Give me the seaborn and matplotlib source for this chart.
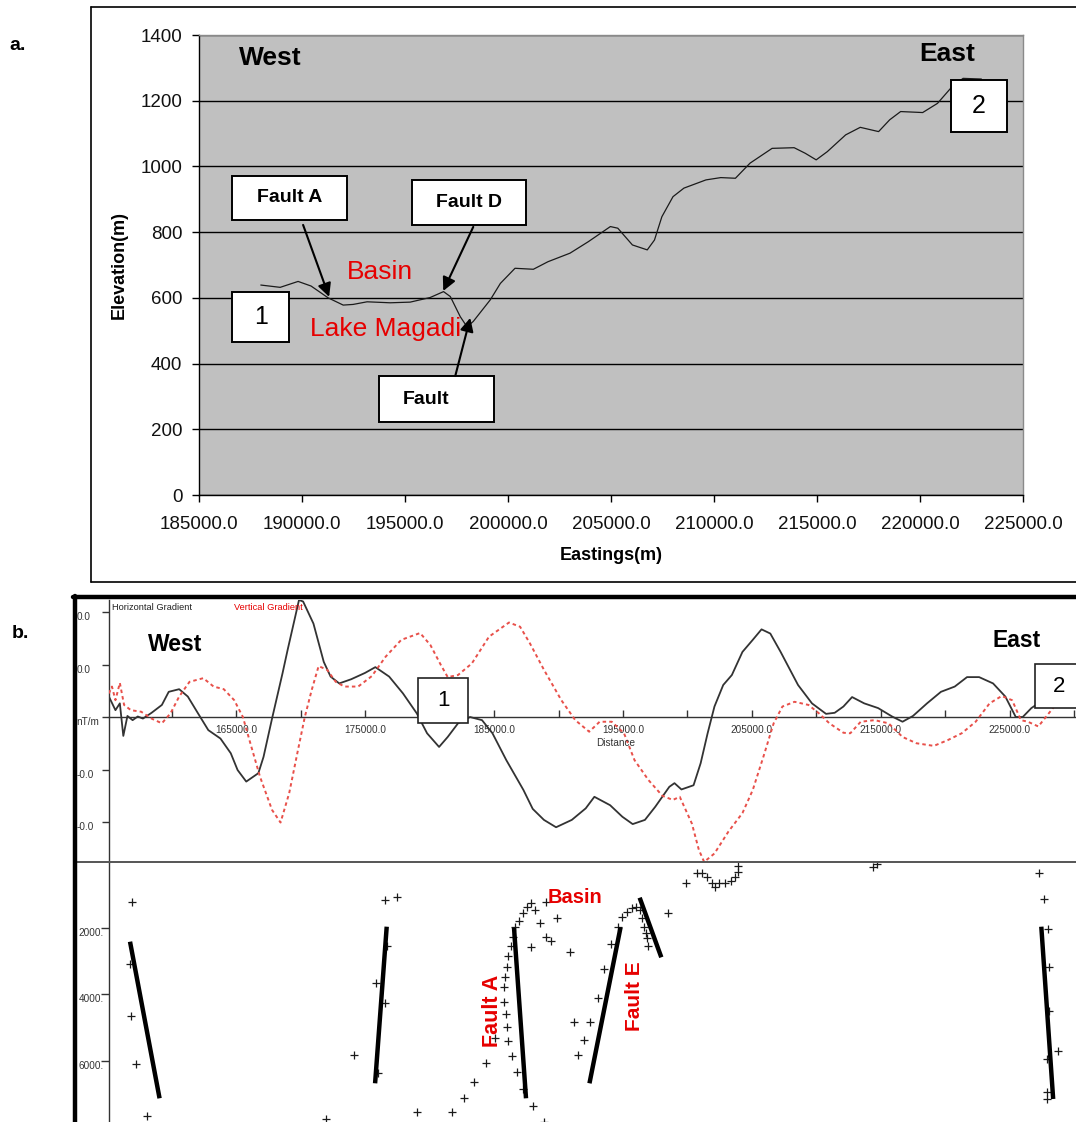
import matplotlib
matplotlib.use("Agg")
import numpy as np
import pandas as pd
import seaborn as sns
import matplotlib.pyplot as plt
from matplotlib.patches import Rectangle
from matplotlib.lines import Line2D
from matplotlib import font_manager

# ---------------- data ----------------
# (a) topographic profile
east_m = [188000, 188940, 189810, 190440, 191270, 192000, 192480, 193160, 194280, 195250,
          196220, 196870, 197200, 197680, 198010, 198310, 199140, 199630, 200340, 201230,
          201940, 203010, 203900, 204970, 205330, 206040, 206760, 207110, 207470, 208010,
          208540, 209610, 210330, 211040, 211750, 212820, 213890, 214430, 214960, 215500,
          216390, 217100, 217990, 218530, 219060, 220130, 220850, 221560, 222090, 222980]
elev_m = [639, 632, 650, 636, 600, 578, 580, 588, 585, 587,
          601, 619, 604, 543, 512, 528, 594, 644, 690, 687,
          710, 736, 771, 817, 812, 761, 746, 776, 847, 908,
          934, 959, 966, 964, 1010, 1055, 1057, 1040, 1020, 1045,
          1096, 1119, 1106, 1142, 1167, 1164, 1192, 1243, 1268, 1266]

# (b) gradient profiles (in tick units of the nT/m axis)
h_dist = [155140, 155650, 155990, 156260, 156580, 156980, 157380, 157780, 158450, 159250,
          159780, 160590, 161260, 162050, 162850, 163790, 164590, 165120, 165790, 166730,
          167130, 167790, 168600, 169000, 169530, 169880, 170200, 171000, 171800, 172330,
          173000, 173930, 175000, 175800, 176870, 177940, 179010, 179810, 180740, 181410,
          182210, 183140, 184070, 184880, 185950, 187280, 188000, 188870, 189810, 191030,
          192110, 192780, 194000, 194950, 195750, 196700, 197500, 198590, 198990, 199530,
          200470, 201020, 201560, 202090, 202770, 203440, 204260, 205060, 205740, 206420,
          207220, 208570, 209650, 210740, 211410, 212090, 212760, 213700, 214780, 215860,
          216670, 217480, 218570, 219650, 220720, 221670, 222610, 223690, 224640, 225450,
          225990, 226660, 227200, 228200]
h_grad = [0.39, 0.13, 0.26, -0.36, 0.02, -0.06, 0.01, -0.03, 0.08, 0.23,
          0.48, 0.53, 0.39, 0.07, -0.25, -0.41, -0.69, -1.01, -1.23, -1.07,
          -0.76, -0.03, 0.83, 1.28, 1.85, 2.23, 2.20, 1.78, 1.05, 0.77,
          0.64, 0.72, 0.84, 0.95, 0.77, 0.45, 0.07, -0.31, -0.57, -0.38,
          -0.12, 0.00, -0.06, -0.31, -0.82, -1.39, -1.75, -1.96, -2.10, -1.96,
          -1.74, -1.52, -1.68, -1.90, -2.04, -1.96, -1.71, -1.33, -1.26, -1.38,
          -1.30, -0.88, -0.31, 0.20, 0.61, 0.80, 1.24, 1.47, 1.67, 1.59,
          1.24, 0.61, 0.26, 0.06, 0.08, 0.20, 0.38, 0.26, 0.17, 0.01,
          -0.09, 0.02, 0.26, 0.48, 0.58, 0.76, 0.76, 0.64, 0.39, 0.00,
          0.00, 0.17, 0.26, 0.32]

v_dist = [155140, 155380, 155650, 155990, 156320, 156850, 157650, 158450, 159250, 159920,
          160590, 161390, 162460, 163260, 164050, 164860, 165530, 166190, 166860, 167790,
          168450, 169120, 169800, 170330, 170860, 171400, 172060, 172730, 173400, 174470,
          175530, 176600, 177810, 179270, 180070, 180880, 181410, 182210, 183280, 184610,
          186160, 187020, 187790, 188870, 190220, 191300, 192380, 193190, 194130, 195080,
          195890, 196970, 198050, 198860, 199400, 200340, 200880, 201290, 202090, 203180,
          204260, 205060, 205880, 206680, 207360, 208300, 209380, 210190, 211000, 212090,
          212620, 213430, 214510, 215590, 216670, 217750, 219100, 220180, 221260, 222340,
          223420, 224360, 225170, 225850, 226390, 227200, 228010, 228820, 229500]
v_grad = [0.45, 0.58, 0.32, 0.65, 0.23, 0.13, 0.10, -0.03, -0.12, 0.07,
          0.39, 0.67, 0.74, 0.58, 0.53, 0.32, 0.00, -0.57, -1.14, -1.77,
          -2.01, -1.45, -0.63, 0.00, 0.51, 0.97, 0.90, 0.67, 0.58, 0.58,
          0.78, 1.15, 1.47, 1.60, 1.37, 0.99, 0.76, 0.80, 1.02, 1.53,
          1.80, 1.72, 1.40, 0.90, 0.32, -0.06, -0.28, -0.09, -0.09, -0.31,
          -0.82, -1.20, -1.50, -1.58, -1.52, -2.03, -2.53, -2.76, -2.60, -2.18,
          -1.83, -1.39, -0.76, -0.12, 0.20, 0.29, 0.23, 0.07, -0.12, -0.30,
          -0.31, -0.09, -0.06, -0.12, -0.38, -0.50, -0.55, -0.44, -0.31, -0.09,
          0.26, 0.40, 0.32, -0.06, -0.09, -0.18, 0.07, 0.32, 0.51]

# (b) Euler solutions (distance, depth)
euler_x = [156960, 156800, 156840, 157270, 158080, 171980, 174120, 175850, 176550, 176520,
           177460, 176680, 175980, 179010, 181720, 182700, 183480, 184360, 185080, 186370,
           186110, 185980, 185910, 185800, 185800, 185850, 185980, 186110, 186290, 186450,
           186630, 186960, 187220, 187530, 187870, 188180, 188570, 189010, 189400, 189030,
           189910, 187870, 186810, 187270, 188000, 188880, 190900, 191190, 191520, 191960,
           192460, 193050, 193490, 194080, 194580, 194960, 195320, 195700, 195990, 196290,
           196500, 196640, 196790, 196880, 196970, 198500, 199920, 200770, 201150, 201540,
           201890, 202130, 202480, 202920, 203370, 203660, 203890, 203950, 214410, 214710,
           227290, 227610, 227960, 228020, 228020, 227870, 228700, 227840, 227840]
euler_depth = [1228, 3083, 4647, 6101, 7646, 7755, 5820, 3665, 4247, 1158,
               1058, 2542, 6372, 7545, 7545, 7124, 6622, 6071, 5318, 5850,
               5392, 4970, 4587, 4216, 3785, 3484, 3183, 2843, 2532, 2262,
               1980, 1781, 1540, 1360, 1258, 1459, 1841, 2280, 2382, 1228,
               1709, 2563, 6322, 6853, 7355, 7826, 2713, 4818, 5820, 5369,
               4837, 4115, 3243, 2491, 1961, 1660, 1510, 1408, 1378, 1459,
               1709, 1980, 2160, 2310, 2542, 1540, 638, 337, 355, 457,
               656, 758, 656, 638, 578, 457, 307, 126, 156, 75,
               337, 1137, 2039, 3183, 4488, 5950, 5700, 6925, 7153]

# interpreted faults (top / bottom end points)
fault_x_top = [156780, 176680, 186550, 194810, 196290, 227430]
fault_d_top = [2412, 1961, 1991, 1979, 1089, 1961]
fault_x_bot = [159070, 175780, 187480, 192400, 197970, 228350]
fault_d_bot = [7123, 6672, 7123, 6672, 2882, 7144]

a_xticks = [185000, 190000, 195000, 200000, 205000, 210000, 215000, 220000, 225000]
a_yticks = [0, 200, 400, 600, 800, 1000, 1200, 1400]
b_xmajor = [165000, 175000, 185000, 195000, 205000, 215000, 225000]
b_xminor = [160000, 170000, 180000, 190000, 200000, 210000, 220000, 230000]
b_yticks = [2, 1, 0, -1, -2]
b_ylabels = ["0.0", "0.0", "nT/m", "-0.0", "-0.0"]
d_yticks = [2000, 4000, 6000]
d_ylabels = ["2000.", "4000.", "6000."]

# ---------------- style ----------------
sns.set_style("ticks")
plt.rcParams["font.family"] = ["Liberation Sans", "DejaVu Sans"]
plt.rcParams["text.color"] = "black"
plt.rcParams["axes.labelcolor"] = "black"
plt.rcParams["xtick.color"] = "black"
plt.rcParams["ytick.color"] = "black"
names = {f.name for f in font_manager.fontManager.ttflist}
NARROW = "Liberation Sans Narrow" if "Liberation Sans Narrow" in names else "Liberation Sans"
SMALL = 8.2 if NARROW == "Liberation Sans Narrow" else 7.2
RED = "#E60000"

W, H = 1076, 1122
fig = plt.figure(figsize=(W / 100, H / 100), dpi=100)
fig.patch.set_facecolor("white")


def fl(x0, y0, x1, y1, **kw):
    fig.add_artist(Line2D([x0 / W, x1 / W], [1 - y0 / H, 1 - y1 / H],
                          transform=fig.transFigure, **kw))


# ---------------- panel a ----------------
ax = fig.add_axes([199 / W, 1 - 495 / H, (1023 - 199) / W, (495 - 35) / H])
ax.set_facecolor("#C0C0C0")
df_a = pd.DataFrame({"Eastings": east_m, "Elevation": elev_m})
sns.lineplot(data=df_a, x="Eastings", y="Elevation", ax=ax, color="#1a1a1a",
             lw=0.9, estimator=None, zorder=3)
ax.set_xlim(185000, 225000)
ax.set_ylim(0, 1400)
ax.set_xticks(a_xticks)
ax.set_xticklabels([f"{v:.1f}" for v in a_xticks])
ax.set_yticks(a_yticks)
ax.set_yticklabels([str(v) for v in a_yticks])
ax.yaxis.grid(True, color="black", lw=1)
ax.set_axisbelow(True)
for s in ["left", "bottom"]:
    ax.spines[s].set_color("black")
    ax.spines[s].set_linewidth(1)
for s in ["top", "right"]:
    ax.spines[s].set_color("#8a8a8a")
    ax.spines[s].set_linewidth(1)
ax.tick_params(axis="both", direction="out", length=5, width=1, color="black",
               labelsize=13.5, labelcolor="#111111")
ax.tick_params(axis="x", pad=10)
ax.tick_params(axis="y", pad=7)
ax.set_xlabel("Eastings(m)", fontsize=13, fontweight="bold", labelpad=10)
ax.set_ylabel("Elevation(m)", fontsize=13, fontweight="bold", labelpad=9)

dpx = (225000 - 185000) / (1023 - 199)
dpy = 1400 / (495 - 35)


def box_a(cx, cy, wpx, hpx, text, size, weight="bold", tdx=0):
    ax.add_patch(Rectangle((cx - wpx * dpx / 2, cy - hpx * dpy / 2), wpx * dpx, hpx * dpy,
                           facecolor="white", edgecolor="black", lw=1.4, zorder=5))
    ax.text(cx + tdx, cy, text, ha="center", va="center", fontsize=size,
            fontweight=weight, zorder=6)


ax.text(188450, 1330, "West", fontsize=19, fontweight="bold", ha="center", va="center")
ax.text(221300, 1342, "East", fontsize=19, fontweight="bold", ha="center", va="center")
ax.text(193800, 679, "Basin", fontsize=19, color=RED, ha="center", va="center", zorder=4)
ax.text(194040, 505, "Lake Magadi", fontsize=19, color=RED, ha="center", va="center", zorder=4)
box_a(189400, 904, 115, 44, "Fault A", 14)
box_a(198120, 890, 114, 45, "Fault D", 14)
box_a(196540, 292, 115, 46, "Fault", 14, tdx=-500)
box_a(187990, 542, 57, 50, "1", 18, weight="normal")
box_a(222850, 1184, 56, 52, "2", 18, weight="normal")
arrow = dict(arrowstyle="-|>", color="black", lw=1.5, mutation_scale=20,
             shrinkA=0, shrinkB=0)
ax.annotate("", xy=(191317, 603), xytext=(190053, 822), arrowprops=arrow, zorder=6)
ax.annotate("", xy=(196856, 621), xytext=(198314, 816), arrowprops=arrow, zorder=6)
ax.annotate("", xy=(198168, 539), xytext=(197439, 362), arrowprops=arrow, zorder=6)

# frame of panel a
fl(91, 7, 1076, 7, color="black", lw=1.2)
fl(91, 7, 91, 582, color="black", lw=1.2)
fl(91, 582, 1076, 582, color="black", lw=1.2)
fig.text(9 / W, 1 - 45 / H, "a.", fontsize=14, fontweight="bold", va="center")

# ---------------- panel b (gradients) ----------------
XL = (155150, 230120)
bx = fig.add_axes([109 / W, 1 - 862 / H, 1 - 109 / W, (862 - 600) / H])
bx.set_facecolor("white")
df_h = pd.DataFrame({"Distance": h_dist, "g": h_grad})
df_v = pd.DataFrame({"Distance": v_dist, "g": v_grad})
sns.lineplot(data=df_h, x="Distance", y="g", ax=bx, color="#333333", lw=1.3,
             estimator=None, zorder=3)
sns.lineplot(data=df_v, x="Distance", y="g", ax=bx, color="#E8504A", lw=1.4,
             estimator=None, zorder=3, linestyle=(0, (1.8, 1.6)))
bx.set_xlim(*XL)
bx.set_ylim(-2.762, 2.229)
bx.set_xlabel("")
bx.set_ylabel("")
for s in ["top", "right"]:
    bx.spines[s].set_visible(False)
bx.spines["bottom"].set_position(("data", 0))
bx.spines["bottom"].set_color("#333333")
bx.spines["bottom"].set_linewidth(1)
bx.spines["left"].set_color("#333333")
bx.spines["left"].set_linewidth(1)
bx.set_xticks(b_xmajor)
bx.set_xticklabels([f"{v:.1f}" for v in b_xmajor], fontfamily=NARROW, fontsize=SMALL,
                   color="#333333")
bx.set_xticks(b_xminor, minor=True)
bx.tick_params(axis="x", which="both", direction="in", length=5, width=1,
               color="#333333", pad=6)
bx.set_yticks(b_yticks)
bx.set_yticklabels(b_ylabels, fontfamily=NARROW, fontsize=SMALL, color="#333333")
bx.tick_params(axis="y", direction="out", length=5, width=1, color="#333333", pad=18.5)
for lab in bx.get_yticklabels():
    lab.set_ha("left")
    lab.set_va("top")
bx.text(192950, -0.40, "Distance", fontfamily=NARROW, fontsize=SMALL, color="#333333",
        ha="left", va="top")
bx.text(155350, 2.08, "Horizontal Gradient", fontfamily=NARROW, fontsize=SMALL - 0.5,
        color="#222222", ha="left", va="center")
bx.text(164850, 2.08, "Vertical Gradient", fontfamily=NARROW, fontsize=SMALL - 0.5,
        color=RED, ha="left", va="center")
bx.text(160270, 1.39, "West", fontsize=16.5, fontweight="bold", ha="center", va="center")
bx.text(225540, 1.45, "East", fontsize=16.5, fontweight="bold", ha="center", va="center")

bdx = (XL[1] - XL[0]) / (W - 109)
bdy = (2.229 + 2.762) / (862 - 600)
bx.add_patch(Rectangle((181047 - 25 * bdx, 0.314 - 22.5 * bdy), 50 * bdx, 45 * bdy,
                       facecolor="white", edgecolor="#222222", lw=1.2, zorder=5))
bx.text(181047, 0.314, "1", fontsize=16, ha="center", va="center", zorder=6)
bx.add_patch(Rectangle((226940, 0.59 - 22 * bdy), 60 * bdx, 44 * bdy,
                       facecolor="white", edgecolor="#222222", lw=1.2, zorder=5,
                       clip_on=False))
bx.text(228800, 0.59, "2", fontsize=16, ha="center", va="center", zorder=6)

# ---------------- panel b (Euler depth section) ----------------
dx = fig.add_axes([109 / W, 0, 1 - 109 / W, (1122 - 862) / H])
dx.set_facecolor("none")
df_e = pd.DataFrame({"Distance": euler_x, "Depth": euler_depth})
sns.scatterplot(data=df_e, x="Distance", y="Depth", ax=dx, marker="+", s=36,
                color="#1a1a1a", linewidth=0.9, zorder=3)
for x0, d0, x1, d1 in zip(fault_x_top, fault_d_top, fault_x_bot, fault_d_bot):
    dx.plot([x0, x1], [d0, d1], color="black", lw=3.2, solid_capstyle="butt", zorder=4)
dx.set_xlim(*XL)
dx.set_ylim(7836, 15)
dx.set_xlabel("")
dx.set_ylabel("")
for s in ["top", "right", "bottom"]:
    dx.spines[s].set_visible(False)
dx.spines["left"].set_color("#333333")
dx.spines["left"].set_linewidth(1)
dx.set_xticks([])
dx.set_yticks(d_yticks)
dx.set_yticklabels(d_ylabels, fontfamily=NARROW, fontsize=SMALL, color="#333333")
dx.tick_params(axis="y", direction="out", length=6, width=1, color="#333333", pad=16)
for lab in dx.get_yticklabels():
    lab.set_ha("left")
    lab.set_va("top")
dx.text(191280, 1068, "Basin", fontsize=14.5, fontweight="bold", color=RED,
        ha="center", va="center", zorder=5)
dx.text(184845, 4497, "Fault A", fontsize=15.5, fontweight="bold", color=RED,
        rotation=90, ha="center", va="center", zorder=5)
dx.text(195890, 4046, "Fault E", fontsize=15, fontweight="bold", color=RED,
        rotation=90, ha="center", va="center", zorder=5)

# frames of panel b
fl(74, 862, 1076, 862, color="#555555", lw=1.4)
fl(72.5, 597, 1076, 597, color="black", lw=3.2)
fl(74.5, 596, 74.5, 1122, color="black", lw=3.2)
fig.text(12 / W, 1 - 634 / H, "b.", fontsize=14, fontweight="bold", va="center")

fig.savefig("out.png", dpi=100, facecolor="white")
